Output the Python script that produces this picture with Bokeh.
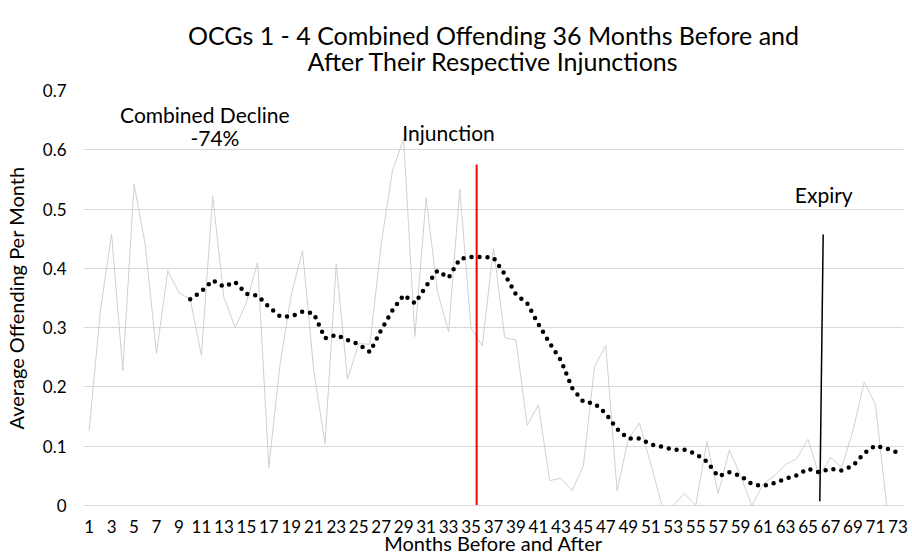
from bokeh.plotting import figure
from bokeh.models import Range1d, FixedTicker, NumeralTickFormatter, Label, Title
from bokeh.embed import file_html
from bokeh.resources import INLINE

# ---- data ----
months = list(range(1, 74))
offending = [
    0.126, 0.328, 0.458, 0.227, 0.542, 0.440, 0.256, 0.396, 0.359, 0.348,
    0.253, 0.522, 0.351, 0.300, 0.342, 0.410, 0.064, 0.239, 0.356, 0.430,
    0.227, 0.104, 0.408, 0.213, 0.273, 0.272, 0.441, 0.564, 0.619, 0.285,
    0.519, 0.362, 0.293, 0.534, 0.299, 0.269, 0.435, 0.283, 0.279, 0.135,
    0.170, 0.042, 0.046, 0.025, 0.067, 0.235, 0.270, 0.025, 0.112, 0.139,
    0.070, 0.000, 0.000, 0.020, 0.000, 0.108, 0.020, 0.094, 0.050, 0.000,
    0.036, 0.050, 0.069, 0.079, 0.112, 0.050, 0.081, 0.064, 0.126, 0.208,
    0.171, 0.000, 0.000,
]
# 10-month moving-average trendline (dotted)
trend_months = list(range(10, 74))
trend = [
    0.348, 0.361, 0.380, 0.369, 0.377, 0.357, 0.354, 0.335, 0.319, 0.319,
    0.327, 0.324, 0.282, 0.288, 0.279, 0.272, 0.259, 0.296, 0.329, 0.355,
    0.341, 0.370, 0.396, 0.384, 0.416, 0.419, 0.419, 0.418, 0.390, 0.356,
    0.341, 0.306, 0.274, 0.245, 0.198, 0.175, 0.172, 0.155, 0.129, 0.113,
    0.113, 0.103, 0.099, 0.094, 0.094, 0.087, 0.074, 0.049, 0.056, 0.050,
    0.036, 0.033, 0.038, 0.045, 0.051, 0.062, 0.056, 0.062, 0.059, 0.067,
    0.088, 0.101, 0.096, 0.089,
]
x_ticks = list(range(1, 74, 2))
y_ticks = [0, 0.1, 0.2, 0.3, 0.4, 0.5, 0.6, 0.7]

injunction_x = [35.5, 35.5]
injunction_y = [0.0, 0.575]
expiry_x = [66.05, 66.35]
expiry_y = [0.007, 0.457]

title_line1 = "OCGs 1 - 4 Combined Offending 36 Months Before and"
title_line2 = "After Their Respective Injunctions"
x_title = "Months Before and After"
y_title = "Average Offending Per Month"

FONT = "Lato"

p = figure(width=912, height=557, output_backend="svg", toolbar_location=None,
           x_range=Range1d(0.5, 73.5), y_range=Range1d(0, 0.7),
           min_border_left=82, min_border_right=9, min_border_bottom=52,
           min_border_top=90)
p.title.text = ""

# title panels, stacked upward from the plot frame: spacer, line 2, line 1
spacer = Title(text=" ", text_font_size="1px", standoff=12)
t2 = Title(text=title_line2, align="center", text_font=FONT,
           text_font_size="25px", text_font_style="normal",
           text_color="#000000", standoff=0)
t1 = Title(text=title_line1, align="center", text_font=FONT,
           text_font_size="25px", text_font_style="normal",
           text_color="#000000", standoff=-12)
p.add_layout(spacer, "above")
p.add_layout(t2, "above")
p.add_layout(t1, "above")

p.outline_line_color = None
p.background_fill_color = "white"
p.border_fill_color = "white"

p.xgrid.grid_line_color = None
p.ygrid.grid_line_color = "#d9d9d9"
p.ygrid.grid_line_width = 1

p.xaxis.ticker = FixedTicker(ticks=x_ticks)
p.yaxis.ticker = FixedTicker(ticks=y_ticks)
p.yaxis.formatter = NumeralTickFormatter(format="0.[0]")

for ax in (p.xaxis, p.yaxis):
    ax.major_tick_line_color = None
    ax.minor_tick_line_color = None
    ax.major_label_text_font = FONT
    ax.major_label_text_font_size = "17px"
    ax.major_label_text_color = "#000000"
    ax.axis_label_text_font = FONT
    ax.axis_label_text_font_size = "20px"
    ax.axis_label_text_font_style = "normal"
    ax.axis_label_text_color = "#000000"

p.xaxis.axis_line_color = "#d9d9d9"
p.yaxis.axis_line_color = None
p.xaxis.axis_label = x_title
p.yaxis.axis_label = y_title
p.xaxis.major_label_standoff = 8
p.yaxis.major_label_standoff = 11
p.xaxis.axis_label_standoff = -5
p.yaxis.axis_label_standoff = 12

# raw monthly series
p.line(months, offending, line_color="#d0d0d0", line_width=1)

# moving-average trend (round dots)
p.line(trend_months, trend, line_color="#000000", line_width=4.5,
       line_dash="0 8", line_cap="round")

# injunction / expiry markers
p.line(injunction_x, injunction_y, line_color="#ff0000", line_width=2)
p.line(expiry_x, expiry_y, line_color="#000000", line_width=1.5)

def add_label(x, y, text):
    p.add_layout(Label(x=x, y=y, text=text, text_align="center",
                       text_baseline="alphabetic", text_font=FONT,
                       text_font_size="21px", text_color="#000000"))

add_label(11.3, 0.660, "Combined Decline")
add_label(12.2, 0.620, "-74%")
add_label(33.0, 0.630, "Injunction")
add_label(66.4, 0.524, "Expiry")

open("out.html", "w").write(file_html(p, INLINE))
